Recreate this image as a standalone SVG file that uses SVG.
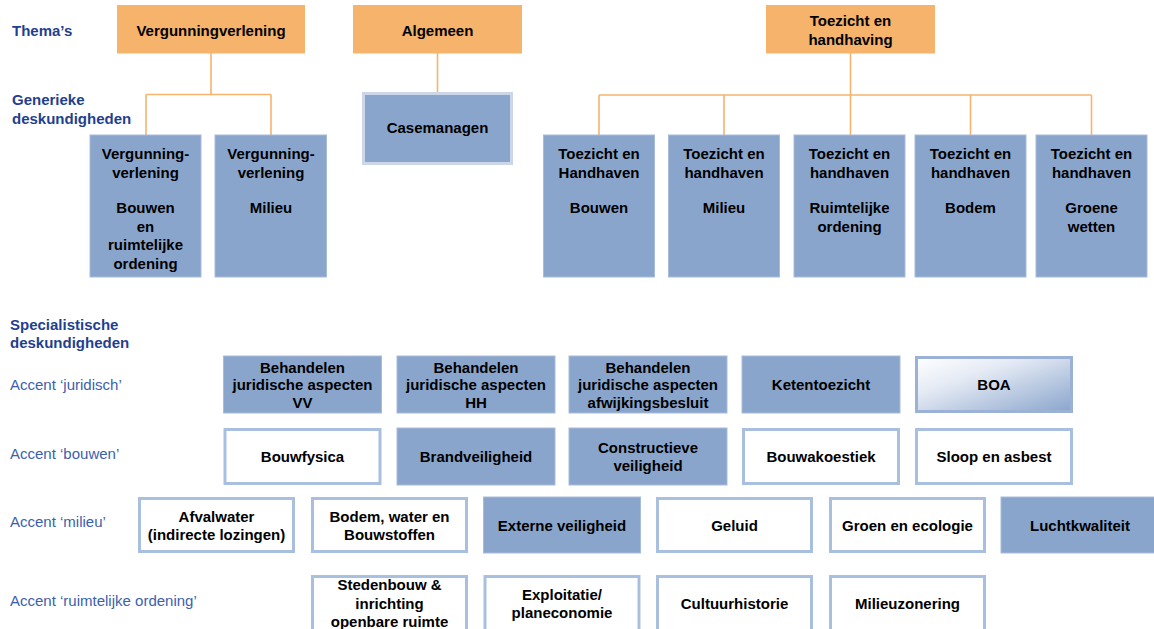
<svg xmlns="http://www.w3.org/2000/svg" width="1154" height="629" viewBox="0 0 1154 629">
<defs>
<linearGradient id="boaGrad" x1="0" y1="0" x2="1" y2="1">
<stop offset="0" stop-color="#ffffff"/>
<stop offset="0.35" stop-color="#e4eaf4"/>
<stop offset="1" stop-color="#8aa5cc"/>
</linearGradient>
<style>
text{font-family:"Liberation Sans",Arial,sans-serif;font-size:15px;}
.t{font-weight:bold;fill:#000;text-anchor:middle;}
.h{font-weight:bold;fill:#1f3f8f;}
.a{fill:#3b5fae;}
.or{fill:#f5b36b;}
.bl{fill:#8aa5cc;stroke:#a7bbda;stroke-width:1;}
.wh{fill:#ffffff;stroke:#a9bfdf;stroke-width:3;}
.boa{fill:url(#boaGrad);stroke:#9bb1d5;stroke-width:3;}
.cm{fill:#8aa5cc;stroke:#cbd7e9;stroke-width:3;}
.c{fill:none;stroke:#f5b46e;stroke-width:1.6;}
</style>
</defs>
<rect width="1154" height="629" fill="#ffffff"/>

<g id="labels">
<text class="h" x="12" y="36">Thema’s</text>
<text class="h" x="12" y="104.5">Generieke</text>
<text class="h" x="12" y="123.5">deskundigheden</text>
<text class="h" x="10" y="329.5">Specialistische</text>
<text class="h" x="10" y="347.5">deskundigheden</text>
<text class="a" x="10" y="390">Accent ‘juridisch’</text>
<text class="a" x="10" y="458.5">Accent ‘bouwen’</text>
<text class="a" x="10" y="527">Accent ‘milieu’</text>
<text class="a" x="10" y="606">Accent ‘ruimtelijke ordening’</text>
</g>

<g id="connectors">
<path class="c" d="M211,53 V94.5 M146,94.5 H271 M146,94.5 V135 M271,94.5 V135"/>
<path class="c" d="M437.5,53 V92"/>
<path class="c" d="M850.5,53 V95 M599,95 H1091.5 M599,95 V135 M724,95 V135 M850.5,95 V135 M970.5,95 V135 M1091.5,95 V135"/>
</g>

<g id="thema-vergunningverlening"><rect class="or" x="117" y="5" width="188" height="48.5"/><text class="t" x="211" y="36">Vergunningverlening</text></g>
<g id="thema-algemeen"><rect class="or" x="353" y="5" width="169" height="48.5"/><text class="t" x="437.5" y="36">Algemeen</text></g>
<g id="thema-toezicht"><rect class="or" x="766" y="5" width="169" height="48.5"/><text class="t" x="850.5" y="26">Toezicht en</text><text class="t" x="850.5" y="45">handhaving</text></g>

<g id="gen-vv-bouwen"><rect class="bl" x="90" y="135" width="111" height="142"/><text class="t" x="145.5" y="159">Vergunning-</text><text class="t" x="145.5" y="177.5">verlening</text><text class="t" x="145.5" y="213">Bouwen</text><text class="t" x="145.5" y="231.5">en</text><text class="t" x="145.5" y="250">ruimtelijke</text><text class="t" x="145.5" y="268.5">ordening</text></g>
<g id="gen-vv-milieu"><rect class="bl" x="215" y="135" width="111.5" height="142"/><text class="t" x="271" y="159">Vergunning-</text><text class="t" x="271" y="177.5">verlening</text><text class="t" x="271" y="213">Milieu</text></g>
<g id="gen-casemanagen"><rect class="cm" x="363.5" y="93.5" width="148" height="70"/><text class="t" x="437.5" y="133">Casemanagen</text></g>

<g id="gen-th-bouwen"><rect class="bl" x="543.5" y="135" width="111" height="142"/><text class="t" x="599" y="159">Toezicht en</text><text class="t" x="599" y="177.5">Handhaven</text><text class="t" x="599" y="213">Bouwen</text></g>
<g id="gen-th-milieu"><rect class="bl" x="668.5" y="135" width="111" height="142"/><text class="t" x="724" y="159">Toezicht en</text><text class="t" x="724" y="177.5">handhaven</text><text class="t" x="724" y="213">Milieu</text></g>
<g id="gen-th-ro"><rect class="bl" x="794" y="135" width="111" height="142"/><text class="t" x="849.5" y="159">Toezicht en</text><text class="t" x="849.5" y="177.5">handhaven</text><text class="t" x="849.5" y="213">Ruimtelijke</text><text class="t" x="849.5" y="231.5">ordening</text></g>
<g id="gen-th-bodem"><rect class="bl" x="915" y="135" width="111" height="142"/><text class="t" x="970.5" y="159">Toezicht en</text><text class="t" x="970.5" y="177.5">handhaven</text><text class="t" x="970.5" y="213">Bodem</text></g>
<g id="gen-th-groen"><rect class="bl" x="1036" y="135" width="111" height="142"/><text class="t" x="1091.5" y="159">Toezicht en</text><text class="t" x="1091.5" y="177.5">handhaven</text><text class="t" x="1091.5" y="213">Groene</text><text class="t" x="1091.5" y="231.5">wetten</text></g>

<g id="spec-jur-vv"><rect class="bl" x="223.5" y="356" width="158" height="57"/><text class="t" x="302.5" y="372.5">Behandelen</text><text class="t" x="302.5" y="390">juridische aspecten</text><text class="t" x="302.5" y="407.5">VV</text></g>
<g id="spec-jur-hh"><rect class="bl" x="397" y="356" width="158" height="57"/><text class="t" x="476" y="372.5">Behandelen</text><text class="t" x="476" y="390">juridische aspecten</text><text class="t" x="476" y="407.5">HH</text></g>
<g id="spec-jur-afw"><rect class="bl" x="569" y="356" width="158" height="57"/><text class="t" x="648" y="372.5">Behandelen</text><text class="t" x="648" y="390">juridische aspecten</text><text class="t" x="648" y="407.5">afwijkingsbesluit</text></g>
<g id="spec-keten"><rect class="bl" x="742" y="356" width="158" height="57"/><text class="t" x="821" y="390">Ketentoezicht</text></g>
<g id="spec-boa"><rect class="boa" x="916.5" y="357.5" width="155" height="54"/><text class="t" x="994" y="390">BOA</text></g>

<g id="spec-bouwfysica"><rect class="wh" x="225" y="429.5" width="155" height="54"/><text class="t" x="302.5" y="462">Bouwfysica</text></g>
<g id="spec-brand"><rect class="bl" x="397" y="428" width="158" height="57"/><text class="t" x="476" y="462">Brandveiligheid</text></g>
<g id="spec-constr"><rect class="bl" x="569" y="428" width="158" height="57"/><text class="t" x="648" y="453">Constructieve</text><text class="t" x="648" y="471">veiligheid</text></g>
<g id="spec-akoestiek"><rect class="wh" x="743.5" y="429.5" width="155" height="54"/><text class="t" x="821" y="462">Bouwakoestiek</text></g>
<g id="spec-sloop"><rect class="wh" x="916.5" y="429.5" width="155" height="54"/><text class="t" x="994" y="462">Sloop en asbest</text></g>

<g id="spec-afvalwater"><rect class="wh" x="139.5" y="498.5" width="154" height="53"/><text class="t" x="216.5" y="521.5">Afvalwater</text><text class="t" x="216.5" y="539.5">(indirecte lozingen)</text></g>
<g id="spec-bodem"><rect class="wh" x="312.5" y="498.5" width="154" height="53"/><text class="t" x="389.5" y="521.5">Bodem, water en</text><text class="t" x="389.5" y="539.5">Bouwstoffen</text></g>
<g id="spec-externe"><rect class="bl" x="483.5" y="497" width="157" height="56"/><text class="t" x="562" y="530.5">Externe veiligheid</text></g>
<g id="spec-geluid"><rect class="wh" x="657.5" y="498.5" width="154" height="53"/><text class="t" x="734.5" y="530.5">Geluid</text></g>
<g id="spec-groen"><rect class="wh" x="830.5" y="498.5" width="154" height="53"/><text class="t" x="907.5" y="530.5">Groen en ecologie</text></g>
<g id="spec-lucht"><rect class="bl" x="1001" y="497" width="157" height="56"/><text class="t" x="1080" y="530.5">Luchtkwaliteit</text></g>

<g id="spec-stedenbouw"><rect class="wh" x="312.5" y="576.5" width="154" height="60"/><text class="t" x="389.5" y="590">Stedenbouw &amp;</text><text class="t" x="389.5" y="608.5">inrichting</text><text class="t" x="389.5" y="627">openbare ruimte</text></g>
<g id="spec-exploitatie"><rect class="wh" x="485" y="576.5" width="154" height="60"/><text class="t" x="562" y="600">Exploitatie/</text><text class="t" x="562" y="618">planeconomie</text></g>
<g id="spec-cultuur"><rect class="wh" x="657.5" y="576.5" width="154" height="60"/><text class="t" x="734.5" y="609">Cultuurhistorie</text></g>
<g id="spec-milieuzonering"><rect class="wh" x="830.5" y="576.5" width="154" height="60"/><text class="t" x="907.5" y="609">Milieuzonering</text></g>
</svg>
